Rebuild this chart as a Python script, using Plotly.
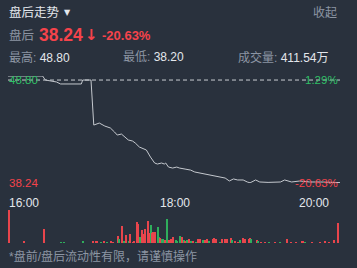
import plotly.graph_objects as go

W, H = 357, 268
BG = "#29313d"
RED = "#f5434b"
GREEN = "#2fbf65"
GRAY = "#8c95a3"
WHITE = "#e3e7ec"
FONT = "Liberation Sans, Noto Sans CJK SC, sans-serif"

# ---- data ----
minutes = [0, 25, 27, 35, 38, 53, 54, 60, 62, 64, 66, 70, 74, 77, 79, 82, 85, 87, 90, 92,
           95, 98, 100, 103, 106, 108, 111, 113, 114, 116, 119, 122, 124, 128, 132, 135, 139,
           142, 146, 150, 153, 157, 160, 163, 166, 170, 173, 175, 179, 182, 188, 197, 200,
           205, 211, 218, 226, 233, 240]
prices = [48.80, 48.80, 48.40, 48.21, 48.01, 48.01, 48.40, 48.40, 43.94, 44.04, 44.14, 43.84,
          43.65, 43.25, 42.95, 43.05, 42.75, 42.46, 42.36, 42.16, 41.76, 41.57, 41.47, 40.77,
          40.18, 40.08, 40.18, 40.08, 40.18, 39.78, 39.68, 39.78, 39.68, 39.58, 39.48, 39.29,
          39.19, 39.09, 38.99, 38.89, 38.79, 38.69, 38.40, 38.60, 38.50, 38.50, 38.30, 38.22,
          38.50, 38.30, 38.26, 38.30, 38.50, 38.30, 38.40, 38.30, 38.30, 38.30, 38.24]
ref_line = 48.40
price_high, price_low = 48.80, 38.20

vol_minutes = [0, 11, 26, 38, 40, 54, 61, 63, 64, 67, 69, 71, 74, 76, 79, 80, 82, 84, 85, 87,
               88, 90, 91, 93, 94, 95, 97, 98, 99, 101, 102, 103, 104, 105, 106, 108, 109, 110,
               111, 112, 113, 115, 116, 118, 119, 121, 122, 124, 126, 127, 128, 129, 131, 132,
               134, 136, 137, 139, 141, 142, 144, 145, 148, 149, 150, 153, 155, 157, 158, 161,
               162, 164, 166, 168, 170, 171, 174, 175, 176, 180, 181, 183, 186, 189, 193, 197,
               202, 205, 208, 213, 215, 220, 226, 229, 232, 236, 239]
vol_values = [33, 2, 14, 1, 1, 1.5, 2.5, 2.5, 2, 1, 1.5, 1, 1.5, 1, 7, 4, 17, 1.5, 8, 2,
              9, 1, 1.5, 21, 19, 6, 13, 9, 14, 22, 10, 18, 10, 11, 11, 16, 6, 5,
              4, 4, 3, 24, 3, 4, 6, 3, 2, 7, 6, 3, 2, 3, 4, 2,
              2, 1, 4, 4, 3, 3, 4, 2, 4, 5, 4, 1, 4, 4, 4, 5,
              3, 2, 1, 3, 5, 4, 4, 5, 4, 3, 2, 1, 1, 1, 1, 1,
              4, 1, 1, 2, 1, 1, 1, 2, 1, 3, 20]
vol_up = "rrrggg" + "rrr" + "grgrrrg" + "rgrgrrrrrgrrrrrgrrrggrgg" \
    "rgrrrgggrgrgrgrgrrgrrgrrrgrrrrgrrgrrrrgrgrrgrgrrrrgrrrrrr"

vol_colors = []
for i in range(len(vol_minutes)):
    c = vol_up[i] if i < len(vol_up) else "r"
    vol_colors.append("#e8454c" if c == "r" else "#2fae5c")

# ---- figure ----
fig = go.Figure()
fig.add_trace(go.Scatter(x=minutes, y=prices, mode="lines",
                         line=dict(color="#c4c8ce", width=1), cliponaxis=False,
                         xaxis="x", yaxis="y", hoverinfo="skip"))
fig.add_trace(go.Scatter(x=[0, 240], y=[ref_line, ref_line], mode="lines",
                         line=dict(color="#c9cdd3", width=1, dash="4px,3px"),
                         xaxis="x", yaxis="y", hoverinfo="skip"))
fig.add_trace(go.Bar(x=vol_minutes, y=vol_values, marker=dict(color=vol_colors, line_width=0),
                     width=1.1, xaxis="x2", yaxis="y2", hoverinfo="skip"))

xd = [8 / W, 340 / W]
ax = dict(showgrid=False, zeroline=False, showticklabels=False, showline=False, fixedrange=True)
fig.update_layout(
    width=W, height=H, margin=dict(l=0, r=0, t=0, b=0),
    paper_bgcolor=BG, plot_bgcolor=BG, showlegend=False,
    xaxis=dict(domain=xd, range=[0, 240], **ax),
    yaxis=dict(domain=[1 - 183 / H, 1 - 76 / H], range=[price_low, price_high], **ax),
    xaxis2=dict(domain=xd, range=[-0.6, 240], anchor="y2", **ax),
    yaxis2=dict(domain=[1 - 243 / H, 1 - 210 / H], range=[0, 33], anchor="x2", **ax),
    bargap=0,
)


def txt(x, y, s, color, size, anchor="left", bold=False, xref="paper", family=FONT):
    fig.add_annotation(x=x if xref != "paper" else x / W, y=1 - y / H, xref=xref, yref="paper",
                       text=f"<b>{s}</b>" if bold else s, showarrow=False,
                       xanchor=anchor, yanchor="middle",
                       font=dict(family=family, size=size, color=color))


txt(7, 13, "盘后走势", WHITE, 12.5)
txt(62, 12, "▼", WHITE, 8, family="DejaVu Sans")
txt(339, 13, "收起", GRAY, 12, anchor="right")
txt(7, 35, "盘后", GRAY, 12.5)
txt(37, 35, "38.24", RED, 17.5, bold=True)
txt(83, 35, "↓", RED, 15, bold=True, family="DejaVu Sans")
txt(100, 35, "-20.63%", RED, 13, bold=True)
txt(7, 57, "最高: <span style='color:%s'>48.80</span>" % WHITE, GRAY, 12)
txt(121, 57, "最低: <span style='color:%s'>38.20</span>" % WHITE, GRAY, 12)
txt(236, 57, "成交量: <span style='color:%s'>411.54万</span>" % WHITE, GRAY, 12)

txt(7, 80, "48.80", GREEN, 11.5)
txt(340, 80, "1.29%", GREEN, 11.5, anchor="right")
txt(7, 183, "38.24", RED, 11.5)
txt(340, 183, "-20.63%", RED, 11.5, anchor="right")

txt(7, 203, "16:00", WHITE, 12)
txt(175, 203, "18:00", WHITE, 12, anchor="center")
txt(331, 203, "20:00", WHITE, 12, anchor="right")

txt(7, 256, "*盘前/盘后流动性有限，请谨慎操作", GRAY, 12)

fig.write_html("out.html", config={"displayModeBar": False})
